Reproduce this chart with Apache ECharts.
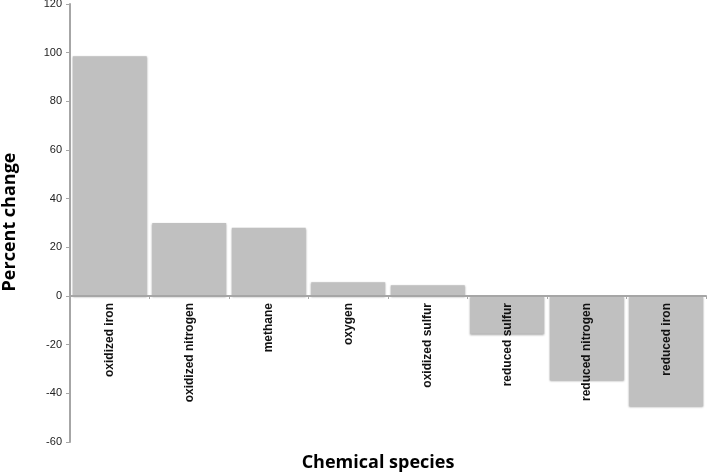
<!DOCTYPE html>
<html>
<head>
<meta charset="utf-8">
<script src="https://cdn.jsdelivr.net/npm/echarts@6/dist/echarts.min.js"></script>
<style>html,body{margin:0;padding:0;background:#fff}#c{width:709px;height:476px}</style>
</head>
<body>
<div id="c"></div>
<script>
const categories = ['oxidized iron','oxidized nitrogen','methane','oxygen','oxidized sulfur','reduced sulfur','reduced nitrogen','reduced iron'];
const values = [98.5, 30, 28, 5.6, 4.4, -15.5, -34.7, -45.4];
const yTicks = {min: -60, max: 120, interval: 20};

const gridTop = 4, gridBottom = 34, H = 476;
const plotH = H - gridTop - gridBottom;
const zeroOffset = -plotH * (0 - yTicks.min) / (yTicks.max - yTicks.min);

const chart = echarts.init(document.getElementById('c'));
chart.setOption({
  animation: false,
  backgroundColor: '#fff',
  grid: {left: 70, right: 3, top: gridTop, bottom: gridBottom, containLabel: false, outerBoundsMode: 'none'},
  xAxis: {
    type: 'category',
    data: categories,
    offset: zeroOffset,
    z: 10,
    axisLine: {onZero: false, lineStyle: {color: '#a6a6a6', width: 2}},
    axisTick: {show: true, length: 3, lineStyle: {color: '#a6a6a6', width: 1}},
    axisLabel: {rotate: 90, margin: 7, fontSize: 12, fontWeight: 'bold', color: '#111', fontFamily: '"Liberation Sans", Arial, sans-serif', interval: 0}
  },
  yAxis: {
    type: 'value',
    min: yTicks.min, max: yTicks.max, interval: yTicks.interval,
    splitLine: {show: false},
    axisLine: {show: true, lineStyle: {color: '#a6a6a6', width: 2}},
    axisTick: {show: true, length: 4, lineStyle: {color: '#a6a6a6'}},
    axisLabel: {margin: 8, fontSize: 11, color: '#222', fontFamily: '"Liberation Sans", Arial, sans-serif'}
  },
  series: [{
    type: 'bar',
    data: values,
    z: 2,
    barCategoryGap: '7%',
    itemStyle: {color: '#c0c0c0', shadowColor: 'rgba(0,0,0,0.35)', shadowBlur: 2, shadowOffsetY: 1}
  }],
  graphic: [
    {type: 'text', x: 378, y: 463, style: {text: 'Chemical species', font: 'bold 18px "Open Sans", sans-serif', fill: '#000', textAlign: 'center', textVerticalAlign: 'middle'}},
    {type: 'text', x: 10, y: 222, rotation: Math.PI/2, style: {text: 'Percent change', font: 'bold 18px "Open Sans", sans-serif', fill: '#000', textAlign: 'center', textVerticalAlign: 'middle'}}
  ]
});
</script>
</body>
</html>
